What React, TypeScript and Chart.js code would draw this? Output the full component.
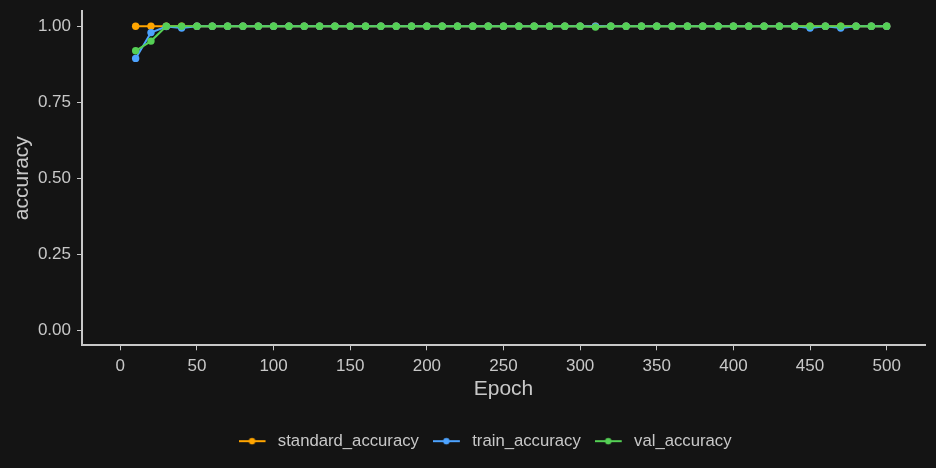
import React, { useEffect, useRef } from 'react';
import { Chart, registerables } from 'chart.js';

Chart.register(...registerables);

const epochs = [10, 20, 30, 40, 50, 60, 70, 80, 90, 100, 110, 120, 130, 140, 150, 160, 170, 180, 190, 200, 210, 220, 230, 240, 250, 260, 270, 280, 290, 300, 310, 320, 330, 340, 350, 360, 370, 380, 390, 400, 410, 420, 430, 440, 450, 460, 470, 480, 490, 500];

const standardAccuracy = [1, 1, 1, 1, 1, 1, 1, 1, 1, 1, 1, 1, 1, 1, 1, 1, 1, 1, 1, 1, 1, 1, 1, 1, 1, 1, 1, 1, 1, 1, 1, 1, 1, 1, 1, 1, 1, 1, 1, 1, 1, 1, 1, 1, 1, 1, 1, 1, 1, 1];

const trainAccuracy = [0.894, 0.979, 0.999, 0.994, 1, 1, 1, 1, 1, 1, 1, 1, 1, 1, 1, 1, 1, 1, 1, 1, 1, 1, 1, 1, 1, 1, 1, 1, 1, 1, 1, 1, 1, 1, 1, 1, 1, 1, 1, 1, 1, 1, 1, 1, 0.994, 1, 0.994, 1, 1, 1];

const valAccuracy = [0.919, 0.951, 1, 1, 1, 1, 1, 1, 1, 1, 1, 1, 1, 1, 1, 1, 1, 1, 1, 1, 1, 1, 1, 1, 1, 1, 1, 1, 1, 1, 0.997, 1, 1, 1, 1, 1, 1, 1, 1, 1, 1, 1, 1, 1, 1, 1, 1, 1, 1, 1];

const seriesNames = ['standard_accuracy', 'train_accuracy', 'val_accuracy'];
const seriesColors = ['#FFA500', '#4DA3FF', '#55D055'];

const xTicks = [0, 50, 100, 150, 200, 250, 300, 350, 400, 450, 500];
const yTicks = [0, 0.25, 0.5, 0.75, 1];

const BG = '#141414';
const FG = '#c8c8c8';
const FONT = "'Liberation Sans', Arial, sans-serif";

function legendSymbol(color: string): HTMLCanvasElement {
  const c = document.createElement('canvas');
  c.width = 31;
  c.height = 10;
  const g = c.getContext('2d')!;
  g.strokeStyle = color;
  g.lineWidth = 2;
  g.beginPath();
  g.moveTo(0, 5);
  g.lineTo(27, 5);
  g.stroke();
  g.fillStyle = color;
  g.beginPath();
  g.arc(13.5, 5, 3.2, 0, Math.PI * 2);
  g.fill();
  return c;
}

const legendShift = {
  id: 'legendShift',
  afterLayout(chart: any) {
    if (chart.legend) {
      chart.legend.left += 22.5;
      chart.legend.right += 22.5;
    }
  },
};

export default function App() {
  const ref = useRef<HTMLCanvasElement | null>(null);

  useEffect(() => {
    if (!ref.current) return;
    const allSeries = [standardAccuracy, trainAccuracy, valAccuracy];
    const datasets = allSeries.map((vals, i) => ({
      label: seriesNames[i],
      data: epochs.map((e, j) => ({ x: e, y: vals[j] })),
      borderColor: seriesColors[i],
      backgroundColor: seriesColors[i],
      borderWidth: 2,
      pointRadius: 3.7,
      pointBorderWidth: 0,
      pointBackgroundColor: seriesColors[i],
      tension: 0,
      order: 3 - i,
    }));
    const symbols = seriesColors.map((c) => legendSymbol(c));

    const chart = new Chart(ref.current, {
      type: 'line',
      data: { datasets },
      plugins: [legendShift],
      options: {
        animation: false,
        responsive: false,
        devicePixelRatio: 1,
        layout: { padding: { top: 11, left: 0, right: 11, bottom: 8.5 } },
        plugins: {
          tooltip: { enabled: false },
          legend: {
            position: 'bottom',
            labels: {
              usePointStyle: true,
              pointStyleWidth: 31,
              padding: 14,
              color: FG,
              font: { family: FONT, size: 16.7 },
              generateLabels: () =>
                seriesNames.map((n, i) => ({
                  text: n,
                  fillStyle: seriesColors[i],
                  strokeStyle: seriesColors[i],
                  lineWidth: 0,
                  pointStyle: symbols[i] as any,
                  fontColor: FG,
                  hidden: false,
                  datasetIndex: i,
                })),
            },
          },
        },
        scales: {
          x: {
            type: 'linear',
            min: -25,
            max: 525,
            afterBuildTicks: (s: any) => {
              s.ticks = xTicks.map((v) => ({ value: v }));
            },
            afterFit: (s: any) => {
              s.height = 73.5;
              s.paddingLeft = 0;
              s.paddingRight = 0;
            },
            grid: { drawOnChartArea: false, drawTicks: true, tickLength: 5, tickColor: FG, tickWidth: 1 },
            border: { display: true, color: FG, width: 2 },
            ticks: { color: FG, padding: 6, font: { family: FONT, size: 17 }, maxRotation: 0, autoSkip: false },
            title: { display: true, text: 'Epoch', color: FG, font: { family: FONT, size: 21 }, padding: { top: 0, bottom: 16.9 } },
          },
          y: {
            type: 'linear',
            min: -0.05,
            max: 1.05,
            afterBuildTicks: (s: any) => {
              s.ticks = yTicks.map((v) => ({ value: v }));
            },
            afterFit: (s: any) => {
              s.width = 82;
              s.paddingTop = 0;
              s.paddingBottom = 0;
            },
            grid: { drawOnChartArea: false, drawTicks: true, tickLength: 5, tickColor: FG, tickWidth: 1 },
            border: { display: true, color: FG, width: 2 },
            ticks: {
              color: FG,
              padding: 6,
              font: { family: FONT, size: 17 },
              callback: (v: any) => Number(v).toFixed(2),
            },
            title: { display: true, text: 'accuracy', color: FG, font: { family: FONT, size: 21 }, padding: { top: 9.4, bottom: 0 } },
          },
        },
      },
    });
    return () => chart.destroy();
  }, []);

  return (
    <div style={{ position: 'fixed', left: 0, top: 0, width: 936, height: 468, background: BG }}>
      <canvas ref={ref} width={936} height={468} style={{ display: 'block' }} />
    </div>
  );
}
